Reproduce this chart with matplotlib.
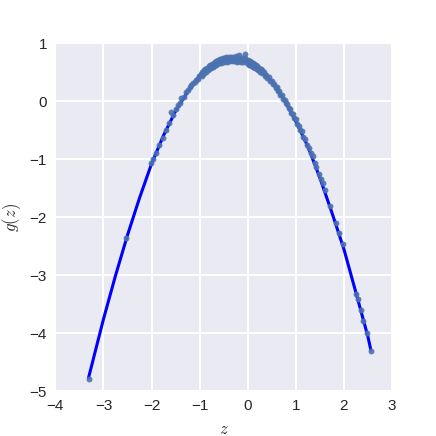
import matplotlib
matplotlib.use("Agg")
import matplotlib.pyplot as plt
import seaborn as sns

# fitted curve
line_z = [-3.31, -3.0, -2.75, -2.5, -2.25, -2.0, -1.75, -1.5, -1.25, -1.0, -0.75,
          -0.5, -0.25, 0.0, 0.25, 0.5, 0.75, 1.0, 1.25, 1.5, 1.75, 2.0, 2.25,
          2.5, 2.56]
line_g = [-4.77, -3.76, -3.01, -2.31, -1.67, -1.08, -0.59, -0.17, 0.16, 0.44, 0.61,
          0.71, 0.73, 0.68, 0.54, 0.33, 0.04, -0.35, -0.78, -1.32, -1.92, -2.55, -3.30,
          -4.06, -4.29]

# observed samples
tail_left_z = [-3.31, -2.53]
tail_left_g = [-4.80, -2.36]

left_z = [-2.01, -1.97, -1.91, -1.84, -1.77, -1.69, -1.63, -1.59, -1.55, -1.49,
          -1.45, -1.41, -1.38, -1.33, -1.28, -1.24, -1.21, -1.17, -1.14, -1.10,
          -1.07, -1.04, -1.01]
left_g = [-1.07, -1.00, -0.89, -0.75, -0.64, -0.49, -0.37, -0.19, -0.24, -0.13,
          -0.07, -0.04, 0.06, 0.08, 0.16, 0.19, 0.25, 0.27, 0.31, 0.33,
          0.37, 0.39, 0.43]

peak_z = [-0.98, -0.96, -0.95, -0.93, -0.91, -0.90, -0.88, -0.86, -0.85, -0.83,
          -0.81, -0.80, -0.78, -0.76, -0.75, -0.73, -0.71, -0.70, -0.68, -0.66,
          -0.65, -0.63, -0.61, -0.60, -0.58, -0.56, -0.55, -0.53, -0.51, -0.50,
          -0.48, -0.46, -0.45, -0.43, -0.41, -0.40, -0.38, -0.36, -0.35, -0.33,
          -0.31, -0.30, -0.28, -0.26, -0.25, -0.23, -0.21, -0.20, -0.18, -0.16,
          -0.15, -0.13, -0.11, -0.10, -0.08, -0.06, -0.05, -0.03, -0.01, 0.0,
          0.02, 0.04, 0.05, 0.07, 0.09, 0.10, 0.12, 0.14, 0.15, 0.17,
          0.19, 0.20, 0.22, 0.24, 0.25, 0.27, 0.29, 0.30]
peak_g = [0.46, 0.43, 0.50, 0.46, 0.53, 0.49, 0.56, 0.51, 0.57, 0.53,
          0.60, 0.56, 0.62, 0.57, 0.64, 0.59, 0.66, 0.61, 0.67, 0.63,
          0.69, 0.64, 0.71, 0.65, 0.72, 0.66, 0.73, 0.67, 0.74, 0.68,
          0.75, 0.69, 0.76, 0.68, 0.75, 0.70, 0.77, 0.69, 0.76, 0.71,
          0.77, 0.69, 0.75, 0.70, 0.78, 0.68, 0.76, 0.70, 0.79, 0.69,
          0.75, 0.68, 0.74, 0.67, 0.73, 0.75, 0.81, 0.71, 0.65, 0.71,
          0.63, 0.69, 0.62, 0.67, 0.60, 0.66, 0.59, 0.64, 0.58, 0.62,
          0.55, 0.60, 0.53, 0.58, 0.51, 0.56, 0.48, 0.53]

right_z = [0.33, 0.36, 0.39, 0.41, 0.44, 0.47, 0.50, 0.52, 0.55, 0.58,
           0.60, 0.63, 0.66, 0.68, 0.71, 0.74, 0.77, 0.79, 0.82, 0.85,
           0.88, 0.91, 0.94, 0.97, 1.00, 1.03, 1.06, 1.09, 1.12, 1.16,
           1.19, 1.23, 1.27, 1.31, 1.35, 1.39, 1.43]
right_g = [0.50, 0.44, 0.45, 0.40, 0.41, 0.34, 0.35, 0.29, 0.30, 0.23,
           0.24, 0.17, 0.17, 0.11, 0.10, 0.03, 0.02, -0.03, -0.05, -0.11,
           -0.13, -0.20, -0.22, -0.29, -0.31, -0.39, -0.42, -0.49, -0.52, -0.61,
           -0.66, -0.75, -0.80, -0.90, -0.95, -1.07, -1.14]

tail_right_z = [1.486, 1.52, 1.556, 1.604, 1.708, 1.833, 1.90, 1.98, 2.26, 2.285,
                2.354, 2.40, 2.486, 2.56]
tail_right_g = [-1.26, -1.35, -1.42, -1.53, -1.81, -2.10, -2.28, -2.47, -3.33, -3.42,
                -3.61, -3.79, -3.99, -4.30]

xticks = [-4, -3, -2, -1, 0, 1, 2, 3]
yticks = [-5, -4, -3, -2, -1, 0, 1]

sns.set_style("darkgrid")
plt.rcParams['font.family'] = ['Liberation Sans', 'DejaVu Sans']
plt.rcParams['mathtext.fontset'] = 'cm'

fig = plt.figure(figsize=(4.36, 4.36), dpi=100)
ax = fig.add_axes([0.127, 0.103, 0.772, 0.798])

ax.plot(line_z, line_g, color='blue', lw=2.2, zorder=2)
pts_z = tail_left_z + left_z + peak_z + right_z + tail_right_z
pts_g = tail_left_g + left_g + peak_g + right_g + tail_right_g
ax.scatter(pts_z, pts_g, s=18, color='#4C72B0', alpha=0.9, linewidths=0, zorder=3)

ax.set_xlim(-4, 3)
ax.set_ylim(-5, 1)
ax.set_xticks(xticks)
ax.set_yticks(yticks)
ax.grid(True, color='white', lw=1.5)
ax.tick_params(labelsize=11, colors='#262626', length=0, pad=6)
ax.set_xlabel(r'$z$', fontsize=12, labelpad=6)
ax.set_ylabel(r'$g(z)$', fontsize=12, labelpad=5)

fig.savefig("out.png", dpi=100)
